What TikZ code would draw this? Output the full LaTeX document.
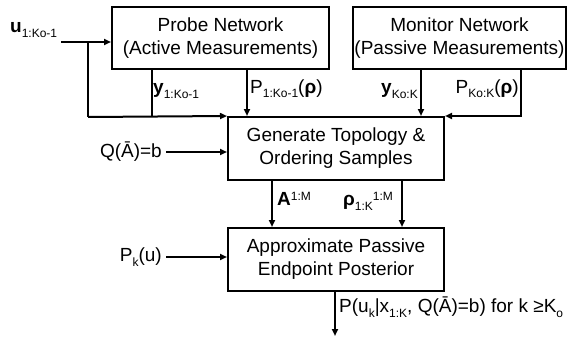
\documentclass[tikz,border=0pt]{standalone}
\usepackage{fontspec}
\setmainfont{Liberation Sans}
\usetikzlibrary{arrows.meta}
\newcommand{\subx}[1]{\raisebox{-5pt}{\fontsize{12}{12}\selectfont #1}}
\newcommand{\supx}[1]{\raisebox{5pt}{\fontsize{12}{12}\selectfont #1}}
\begin{document}
\begin{tikzpicture}[x=1pt,y=-1pt,
  box/.style={draw,line width=2pt,align=center,inner sep=0pt,font=\fontsize{19}{23}\selectfont},
  lbl/.style={inner sep=0pt,font=\fontsize{19}{23}\selectfont},
  conn/.style={line width=2pt},
  arr/.style={conn,-{Triangle[length=7pt,width=6pt]}}]
\useasboundingbox (0,0) rectangle (568,337);
% boxes
\node[box,minimum width=217pt,minimum height=62pt] (probe) at (220.5,38) {Probe Network\\(Active Measurements)};
\node[box,minimum width=213pt,minimum height=62pt] (monitor) at (459.5,38) {Monitor Network\\(Passive Measurements)};
\node[box,minimum width=216pt,minimum height=63pt] (gen) at (336,148.5) {Generate Topology \&\\Ordering Samples};
\node[box,minimum width=216pt,minimum height=63pt] (approx) at (336,259.5) {Approximate Passive\\Endpoint Posterior};
% labels
\node[lbl,anchor=base west] (ulab) at (10,33) {\textbf{u}\subx{1:Ko-1}};
\node[lbl,anchor=base west] (ylab) at (153,94) {\textbf{y}\subx{1:Ko-1}};
\node[lbl,anchor=base west] (plab) at (250,93) {P\subx{1:Ko-1}(\textbf{ρ})};
\node[lbl,anchor=base east] (ymlab) at (418,94) {\textbf{y}\subx{Ko:K}};
\node[lbl,anchor=base east] (pmlab) at (519,93) {P\subx{Ko:K}(\textbf{ρ})};
\node[lbl,anchor=east] (qlab) at (162,152) {Q(Ā)=b};
\node[lbl,anchor=east] (pklab) at (162,257) {P\subx{k}(u)};
\node[lbl,anchor=base west] (alab) at (277,205) {\textbf{A}\supx{1:M}};
\node[lbl,anchor=base west] (rlab) at (343,205) {\textbf{ρ}\subx{1:K}\supx{1:M}};
\node[lbl,anchor=base west] (olab) at (339,312) {P(u\subx{k}|x\subx{1:K}, Q(Ā)=b) for k ≥K\subx{o}};
% coordinates
\coordinate (ustart) at (61,42);
\coordinate (ubr) at (88,42);
\coordinate (ujoin) at (88,117);
\coordinate (yx) at (152,117);
\coordinate (px) at (247,117);
\coordinate (ymx) at (421,117);
\coordinate (pmx) at (521,117);
\coordinate (ax) at (272,200);
\coordinate (rx) at (402,200);
\coordinate (ox) at (335,200);
\coordinate (oend) at (335,336);
% connectors
\draw[arr] (ustart) -- (ustart -| probe.west);
\draw[conn] (ubr) -- (ujoin);
\draw[arr] (ujoin) -- (gen.north west);
\draw[conn] (yx |- probe.south) -- (yx);
\draw[arr] (px |- probe.south) -- (px |- gen.north);
\draw[arr] (ymx |- monitor.south) -- (ymx |- gen.north);
\draw[arr] (pmx |- monitor.south) -- (pmx |- gen.north) -- (gen.north east);
\draw[arr] ([xshift=4pt]qlab.east) -- (qlab.east -| gen.west);
\draw[arr] ([xshift=4pt]pklab.east) -- (pklab.east -| approx.west);
\draw[arr] (ax |- gen.south) -- (ax |- approx.north);
\draw[arr] (rx |- gen.south) -- (rx |- approx.north);
\draw[arr] (ox |- approx.south) -- (oend);
\end{tikzpicture}
\end{document}
